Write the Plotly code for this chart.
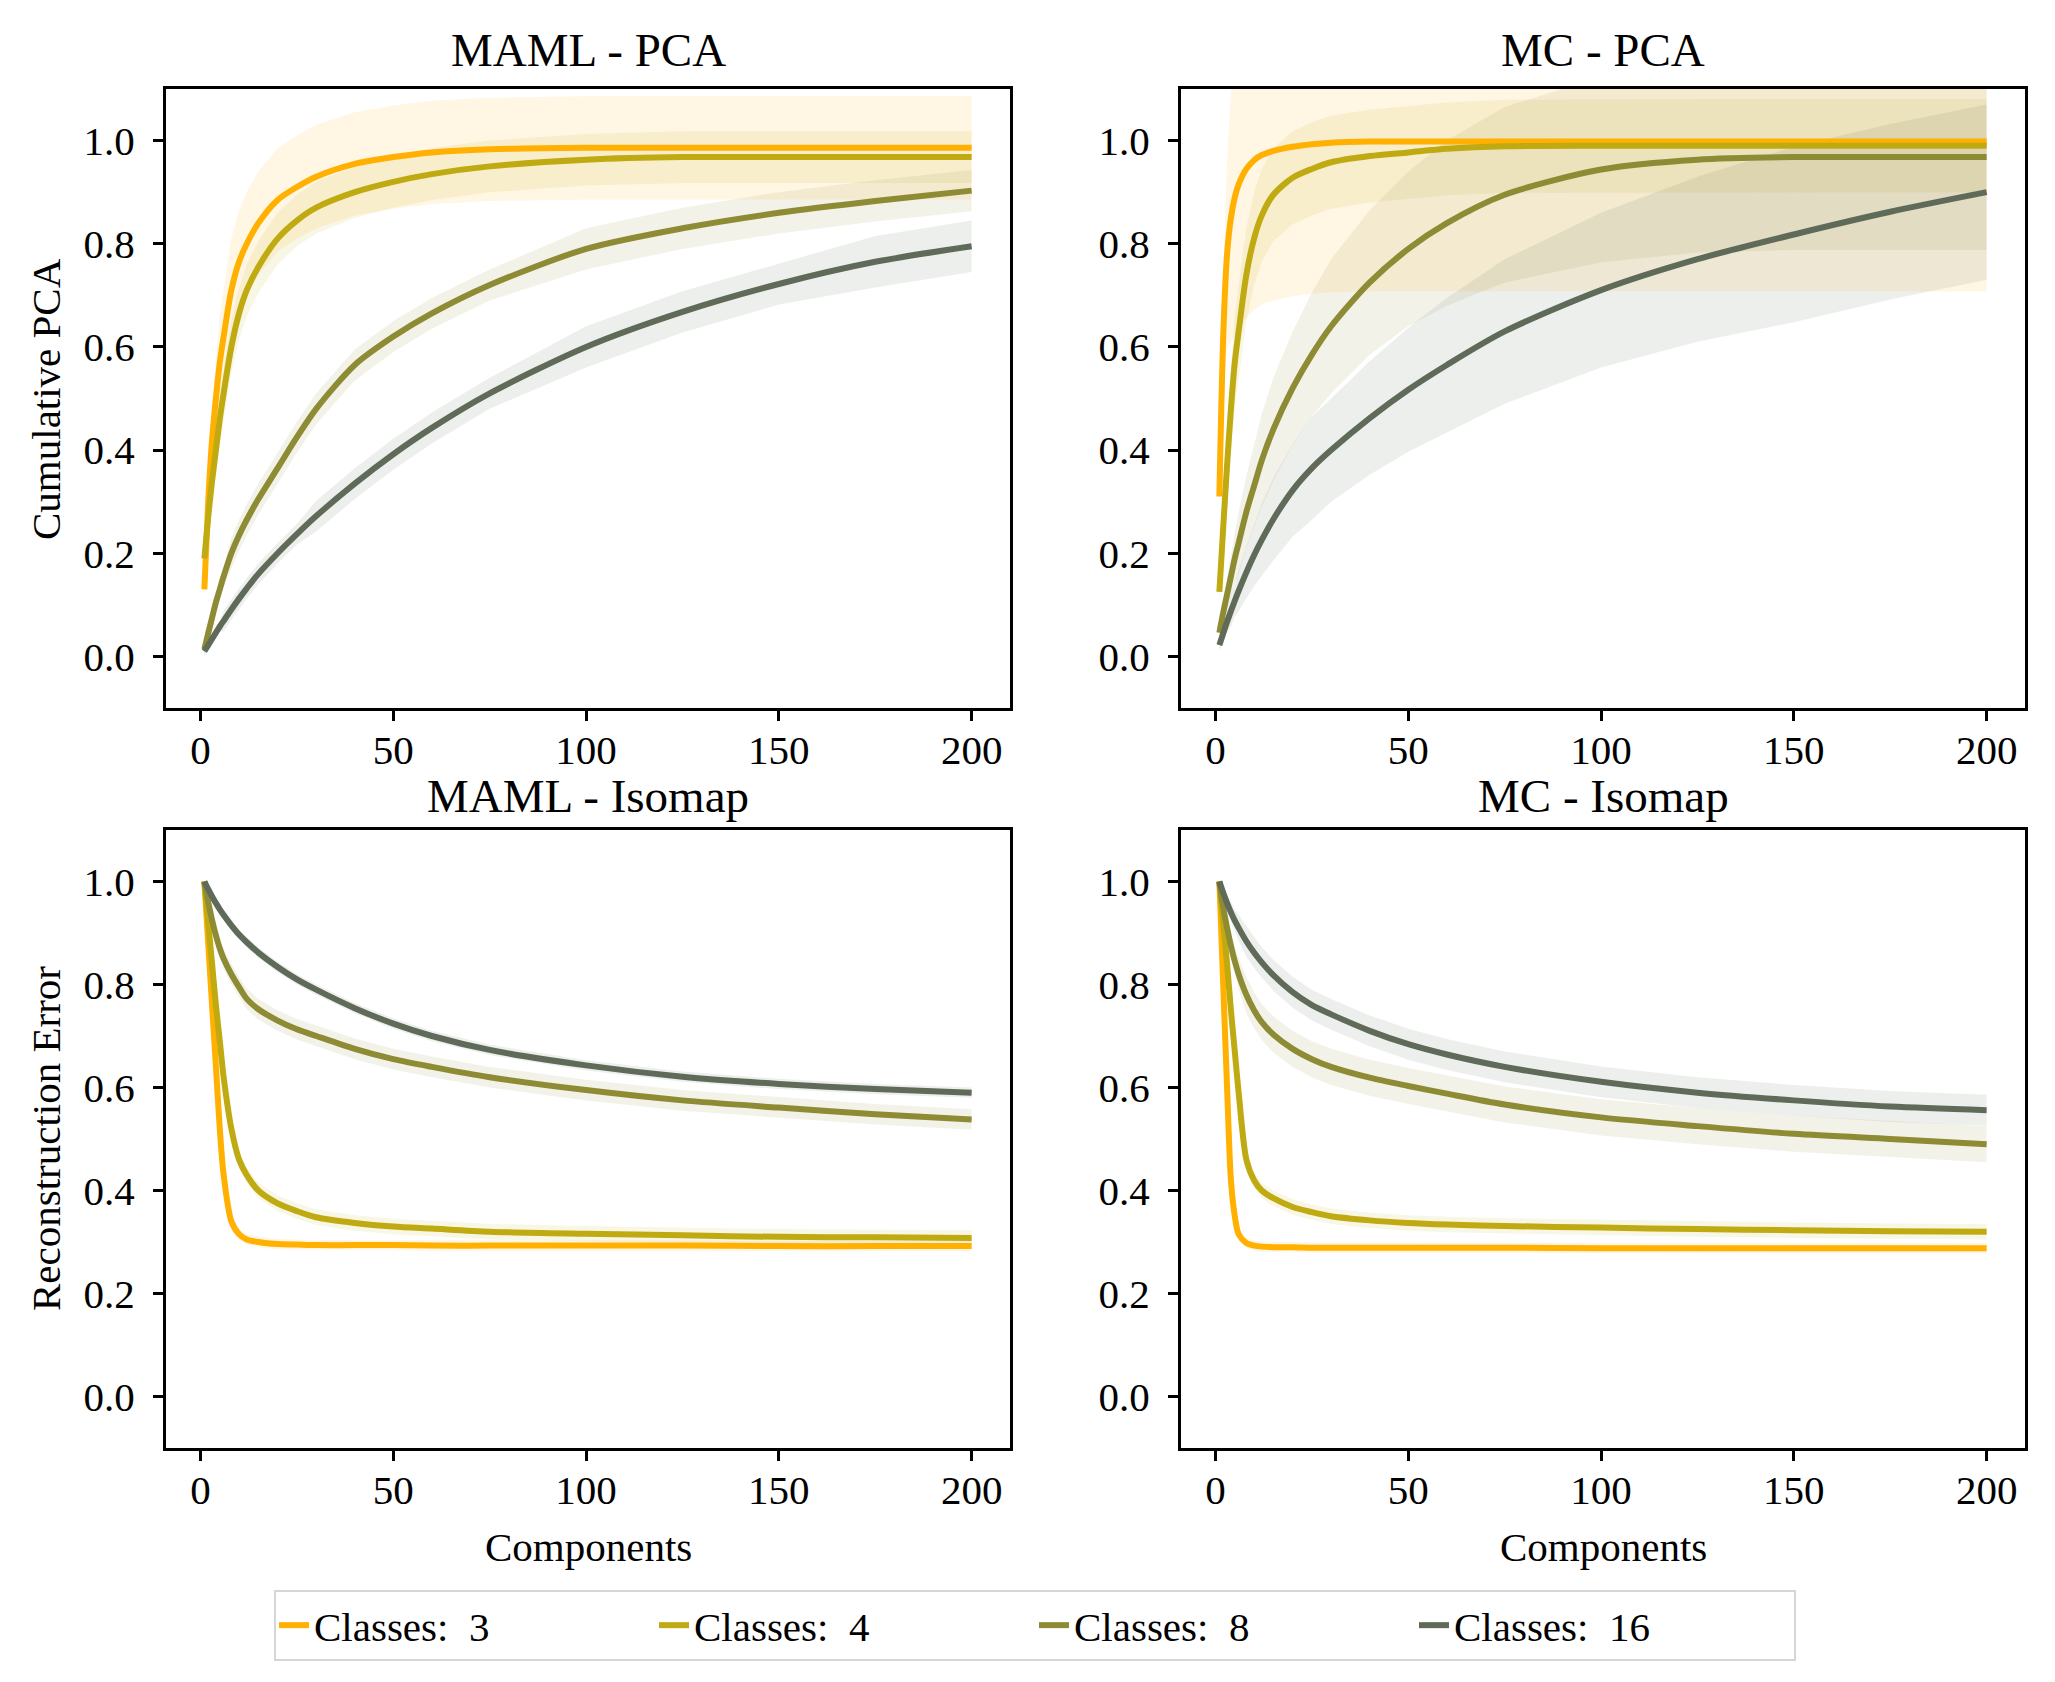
import plotly.graph_objects as go

# Componentes en los que se leyeron los valores de la figura
componentes = [1, 2, 3, 4, 5, 6, 8, 10, 12, 15, 20, 25, 30, 40, 50, 60, 75, 100, 125, 150, 175, 200]

clases = [3, 4, 8, 16]
colores = ['#FFB000', '#BFAA12', '#8E8B35', '#5F6A59']

# MAML - PCA: media por clase (3, 4, 8, 16)
maml_pca = [
    [0.13, 0.30, 0.42, 0.50, 0.57, 0.62, 0.71, 0.765, 0.80, 0.84, 0.885, 0.91, 0.93, 0.955, 0.968, 0.977, 0.983, 0.986, 0.986, 0.986, 0.986, 0.986],
    [0.19, 0.27, 0.34, 0.40, 0.46, 0.51, 0.60, 0.665, 0.71, 0.755, 0.81, 0.845, 0.87, 0.90, 0.92, 0.935, 0.95, 0.963, 0.968, 0.968, 0.968, 0.968],
    [0.014, 0.045, 0.075, 0.105, 0.13, 0.155, 0.20, 0.235, 0.265, 0.305, 0.365, 0.425, 0.48, 0.565, 0.62, 0.665, 0.72, 0.79, 0.83, 0.86, 0.883, 0.903],
    [0.01, 0.022, 0.034, 0.046, 0.058, 0.069, 0.091, 0.112, 0.132, 0.16, 0.20, 0.237, 0.272, 0.335, 0.392, 0.443, 0.51, 0.60, 0.668, 0.722, 0.765, 0.795],
]
maml_pca_sd = [
    [0.02, 0.05, 0.07, 0.08, 0.09, 0.09, 0.10, 0.10, 0.10, 0.10, 0.10, 0.10, 0.10, 0.10, 0.10, 0.10, 0.10, 0.10, 0.10, 0.10, 0.10, 0.10],
    [0.02, 0.03, 0.04, 0.05, 0.05, 0.05, 0.05, 0.05, 0.05, 0.05, 0.05, 0.05, 0.05, 0.05, 0.05, 0.05, 0.05, 0.05, 0.05, 0.05, 0.05, 0.05],
    [0.01, 0.01, 0.02, 0.02, 0.02, 0.02, 0.03, 0.03, 0.03, 0.03, 0.03, 0.03, 0.03, 0.03, 0.03, 0.03, 0.03, 0.04, 0.04, 0.04, 0.04, 0.04],
    [0.01, 0.01, 0.01, 0.01, 0.01, 0.02, 0.02, 0.02, 0.02, 0.02, 0.02, 0.02, 0.03, 0.03, 0.03, 0.03, 0.03, 0.04, 0.04, 0.04, 0.05, 0.05],
]

# MC - PCA
mc_pca = [
    [0.31, 0.62, 0.78, 0.85, 0.89, 0.915, 0.945, 0.962, 0.972, 0.98, 0.988, 0.993, 0.996, 0.998, 0.998, 0.998, 0.998, 0.998, 0.998, 0.998, 0.998, 0.998],
    [0.125, 0.25, 0.37, 0.48, 0.57, 0.63, 0.74, 0.81, 0.855, 0.895, 0.928, 0.945, 0.958, 0.97, 0.977, 0.984, 0.989, 0.99, 0.99, 0.99, 0.99, 0.99],
    [0.046, 0.085, 0.12, 0.155, 0.19, 0.22, 0.28, 0.33, 0.38, 0.44, 0.52, 0.585, 0.64, 0.725, 0.79, 0.84, 0.895, 0.944, 0.963, 0.968, 0.968, 0.968],
    [0.022, 0.045, 0.067, 0.088, 0.108, 0.127, 0.163, 0.196, 0.226, 0.266, 0.322, 0.365, 0.40, 0.462, 0.517, 0.565, 0.63, 0.71, 0.77, 0.818, 0.862, 0.90],
]
mc_pca_sd = [
    [0.02, 0.10, 0.18, 0.24, 0.27, 0.28, 0.29, 0.29, 0.29, 0.29, 0.29, 0.29, 0.29, 0.29, 0.29, 0.29, 0.29, 0.29, 0.29, 0.29, 0.29, 0.29],
    [0.02, 0.05, 0.07, 0.08, 0.09, 0.09, 0.09, 0.09, 0.09, 0.09, 0.09, 0.09, 0.09, 0.09, 0.09, 0.09, 0.09, 0.09, 0.09, 0.09, 0.09, 0.09],
    [0.01, 0.02, 0.03, 0.04, 0.05, 0.06, 0.07, 0.08, 0.09, 0.10, 0.11, 0.12, 0.13, 0.14, 0.15, 0.16, 0.17, 0.18, 0.18, 0.18, 0.18, 0.18],
    [0.01, 0.02, 0.02, 0.03, 0.03, 0.04, 0.05, 0.06, 0.07, 0.08, 0.09, 0.10, 0.10, 0.11, 0.12, 0.13, 0.14, 0.15, 0.16, 0.17, 0.17, 0.17],
]

# MAML - Isomap
maml_iso = [
    [1.0, 0.88, 0.76, 0.64, 0.52, 0.43, 0.34, 0.315, 0.305, 0.30, 0.296, 0.295, 0.294, 0.294, 0.294, 0.293, 0.293, 0.293, 0.293, 0.292, 0.292, 0.292],
    [1.0, 0.92, 0.84, 0.76, 0.69, 0.62, 0.52, 0.46, 0.43, 0.40, 0.375, 0.36, 0.348, 0.337, 0.33, 0.326, 0.32, 0.316, 0.313, 0.31, 0.309, 0.308],
    [1.0, 0.96, 0.925, 0.895, 0.87, 0.85, 0.82, 0.795, 0.772, 0.752, 0.73, 0.713, 0.70, 0.675, 0.655, 0.64, 0.62, 0.595, 0.575, 0.561, 0.548, 0.538],
    [1.0, 0.985, 0.971, 0.958, 0.946, 0.935, 0.915, 0.897, 0.882, 0.862, 0.834, 0.81, 0.79, 0.754, 0.724, 0.70, 0.673, 0.643, 0.621, 0.607, 0.597, 0.59],
]
maml_iso_sd = [
    [0.0, 0.01, 0.01, 0.01, 0.01, 0.01, 0.01, 0.01, 0.01, 0.01, 0.01, 0.01, 0.01, 0.01, 0.01, 0.01, 0.01, 0.01, 0.01, 0.01, 0.01, 0.01],
    [0.0, 0.01, 0.01, 0.015, 0.015, 0.015, 0.015, 0.015, 0.015, 0.015, 0.015, 0.015, 0.015, 0.015, 0.015, 0.015, 0.015, 0.015, 0.015, 0.015, 0.015, 0.015],
    [0.0, 0.01, 0.01, 0.015, 0.015, 0.02, 0.02, 0.02, 0.02, 0.02, 0.02, 0.02, 0.02, 0.02, 0.02, 0.02, 0.02, 0.02, 0.02, 0.02, 0.02, 0.02],
    [0.0, 0.005, 0.005, 0.01, 0.01, 0.01, 0.01, 0.01, 0.01, 0.01, 0.01, 0.01, 0.01, 0.01, 0.01, 0.01, 0.01, 0.01, 0.01, 0.01, 0.01, 0.01],
]

# MC - Isomap
mc_iso = [
    [1.0, 0.80, 0.60, 0.42, 0.35, 0.315, 0.298, 0.293, 0.291, 0.29, 0.29, 0.289, 0.289, 0.289, 0.289, 0.289, 0.289, 0.288, 0.288, 0.288, 0.288, 0.288],
    [1.0, 0.92, 0.84, 0.75, 0.67, 0.59, 0.46, 0.42, 0.40, 0.385, 0.368, 0.358, 0.35, 0.342, 0.337, 0.334, 0.331, 0.328, 0.325, 0.323, 0.321, 0.32],
    [1.0, 0.95, 0.91, 0.875, 0.845, 0.82, 0.78, 0.75, 0.727, 0.703, 0.675, 0.655, 0.64, 0.619, 0.603, 0.588, 0.567, 0.542, 0.525, 0.51, 0.50, 0.49],
    [1.0, 0.978, 0.958, 0.94, 0.924, 0.91, 0.884, 0.862, 0.843, 0.818, 0.785, 0.76, 0.742, 0.71, 0.684, 0.664, 0.64, 0.611, 0.59, 0.575, 0.563, 0.556],
]
mc_iso_sd = [
    [0.0, 0.01, 0.01, 0.01, 0.01, 0.01, 0.01, 0.01, 0.01, 0.01, 0.01, 0.01, 0.01, 0.01, 0.01, 0.01, 0.01, 0.01, 0.01, 0.01, 0.01, 0.01],
    [0.0, 0.01, 0.01, 0.015, 0.015, 0.015, 0.015, 0.015, 0.015, 0.015, 0.015, 0.015, 0.015, 0.015, 0.015, 0.015, 0.015, 0.015, 0.015, 0.015, 0.015, 0.015],
    [0.0, 0.01, 0.015, 0.02, 0.025, 0.03, 0.035, 0.035, 0.035, 0.035, 0.035, 0.035, 0.035, 0.035, 0.035, 0.035, 0.035, 0.035, 0.035, 0.035, 0.035, 0.035],
    [0.0, 0.01, 0.015, 0.02, 0.02, 0.025, 0.03, 0.03, 0.03, 0.03, 0.03, 0.03, 0.03, 0.03, 0.03, 0.03, 0.03, 0.03, 0.03, 0.03, 0.03, 0.03],
]

paneles = [
    ('MAML - PCA', maml_pca, maml_pca_sd, 'x', 'y'),
    ('MC - PCA', mc_pca, mc_pca_sd, 'x2', 'y2'),
    ('MAML - Isomap', maml_iso, maml_iso_sd, 'x3', 'y3'),
    ('MC - Isomap', mc_iso, mc_iso_sd, 'x4', 'y4'),
]

W, H = 2055, 1682
FUENTE = 'Liberation Serif'


def rgba(hexcol, a):
    h = hexcol.lstrip('#')
    r, g, b = int(h[0:2], 16), int(h[2:4], 16), int(h[4:6], 16)
    return f'rgba({r},{g},{b},{a})'


fig = go.Figure()

for p, (titulo, medias, sds, xa, ya) in enumerate(paneles):
    # bandas primero
    for k in range(len(clases)):
        sup = [m + s for m, s in zip(medias[k], sds[k])]
        inf = [m - s for m, s in zip(medias[k], sds[k])]
        fig.add_trace(go.Scatter(
            x=componentes + componentes[::-1], y=sup + inf[::-1],
            fill='toself', fillcolor=rgba(colores[k], 0.11),
            line=dict(width=0), mode='lines', hoverinfo='skip',
            showlegend=False, xaxis=xa, yaxis=ya))
    for k in range(len(clases)):
        fig.add_trace(go.Scatter(
            x=componentes, y=medias[k], mode='lines',
            line=dict(color=colores[k], width=6, shape='spline', smoothing=0.8),
            name=f'Classes:  {clases[k]}', legendgroup=str(clases[k]),
            showlegend=(p == 0), xaxis=xa, yaxis=ya))

# posiciones de los ejes en pixeles
cols = [(166, 1010), (1181, 2025)]
filas = [(89, 708), (830, 1448)]

eje_x = dict(range=[-8.95, 209.95], tickvals=[0, 50, 100, 150, 200],
             ticklabelstandoff=-6,
             ticks='outside', ticklen=10, tickwidth=3, tickcolor='black',
             showline=True, linecolor='black', linewidth=3, mirror=True,
             showgrid=False, zeroline=False,
             tickfont=dict(family=FUENTE, size=41, color='black'))
eje_y = dict(range=[-0.1, 1.1], tickvals=[0, 0.2, 0.4, 0.6, 0.8, 1.0],
             tickformat='.1f', ticklabelstandoff=10,
             ticks='outside', ticklen=10, tickwidth=3, tickcolor='black',
             showline=True, linecolor='black', linewidth=3, mirror=True,
             showgrid=False, zeroline=False,
             tickfont=dict(family=FUENTE, size=41, color='black'))

layout = {}
anotaciones = []
for p in range(4):
    fila, col = p // 2, p % 2
    x0, x1 = cols[col]
    y0, y1 = filas[fila]
    sx = '' if p == 0 else str(p + 1)
    layout['xaxis' + sx] = dict(eje_x, domain=[x0 / W, x1 / W], anchor='y' + sx)
    layout['yaxis' + sx] = dict(eje_y, domain=[1 - y1 / H, 1 - y0 / H], anchor='x' + sx)
    cx = (x0 + x1) / 2 / W
    dy = 39 if fila == 0 else 34
    anotaciones.append(dict(text=paneles[p][0], x=cx, y=1 - (y0 - dy) / H,
                            xanchor='center', yanchor='middle',
                            xref='paper', yref='paper', showarrow=False,
                            font=dict(family=FUENTE, size=47, color='black')))
    if fila == 1:
        anotaciones.append(dict(text='Components', x=cx, y=1 - 1547 / H,
                                xanchor='center', yanchor='middle',
                                xref='paper', yref='paper', showarrow=False,
                                font=dict(family=FUENTE, size=41, color='black')))

anotaciones.append(dict(text='Cumulative PCA', x=46 / W, y=1 - 399 / H, textangle=-90,
                        xanchor='center', yanchor='middle',
                        xref='paper', yref='paper', showarrow=False,
                        font=dict(family=FUENTE, size=41, color='black')))
anotaciones.append(dict(text='Reconstruction Error', x=46 / W, y=1 - 1139 / H, textangle=-90,
                        xanchor='center', yanchor='middle',
                        xref='paper', yref='paper', showarrow=False,
                        font=dict(family=FUENTE, size=41, color='black')))

fig.update_layout(
    width=W, height=H,
    margin=dict(l=0, r=0, t=0, b=0),
    paper_bgcolor='white', plot_bgcolor='white',
    annotations=anotaciones,
    legend=dict(orientation='h', x=1035 / W, xanchor='center', y=1 - 1590 / H, yanchor='top',
                bordercolor='#d6d6d6', borderwidth=2, bgcolor='white',
                font=dict(family=FUENTE, size=41, color='black'),
                entrywidth=335, entrywidthmode='pixels'),
    **layout,
)

fig.write_html('out.html', config={'displayModeBar': False},
               post_script="document.body.style.margin='0px';")
